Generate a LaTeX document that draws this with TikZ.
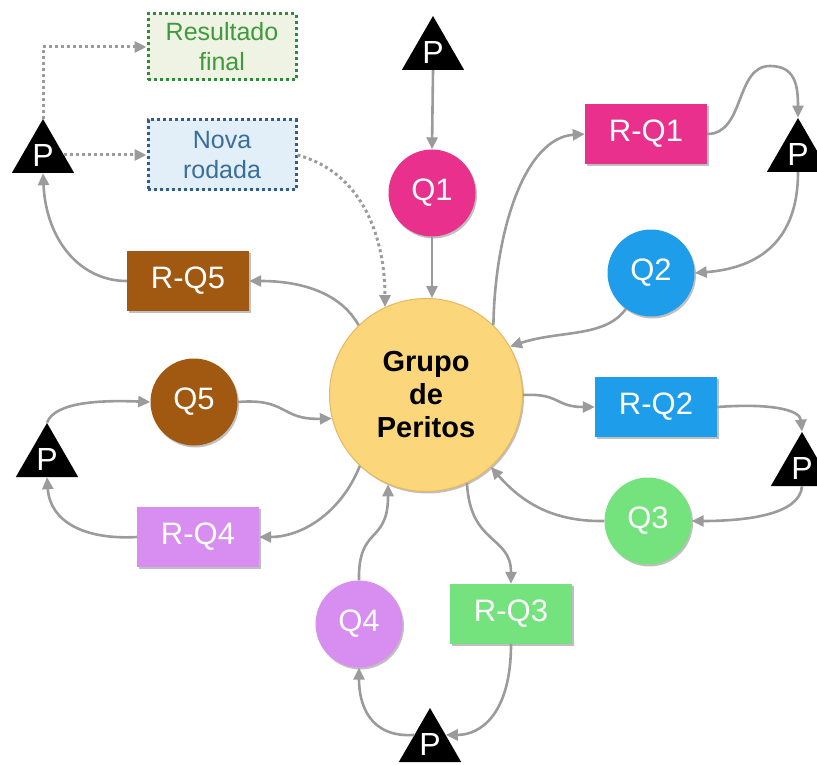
\documentclass[tikz,border=0pt]{standalone}
\usepackage{fontspec}
\setmainfont{Liberation Sans}
\usetikzlibrary{arrows.meta,shapes.geometric,shadows}

\definecolor{pinkc}{HTML}{E8308C}
\definecolor{bluec}{HTML}{1E9DEA}
\definecolor{greenc}{HTML}{74E37E}
\definecolor{purplec}{HTML}{D88EF0}
\definecolor{brownc}{HTML}{A15811}
\definecolor{grupoc}{HTML}{FCD67A}
\definecolor{grupoedge}{HTML}{E6B75E}
\definecolor{linkgray}{HTML}{9B9B9B}
\definecolor{novafill}{HTML}{E3EFF8}
\definecolor{novaedge}{HTML}{2F5D8C}
\definecolor{novatext}{HTML}{3A6E9A}
\definecolor{resfill}{HTML}{EEF3E3}
\definecolor{resedge}{HTML}{2E8B37}
\definecolor{restext}{HTML}{3E9A3A}

\tikzset{
  softshadow/.style={drop shadow={shadow xshift=1.5pt, shadow yshift=-2pt, opacity=0.25, fill=black}},
  qcirc/.style={circle, minimum size=87pt, inner sep=0pt, text=white,
    font=\fontsize{31}{32}\selectfont, softshadow},
  rbox/.style={rectangle, minimum width=122pt, minimum height=60pt, inner sep=0pt,
    text=white, font=\fontsize{31}{32}\selectfont, softshadow},
  ptri/.style={regular polygon, regular polygon sides=3, minimum size=72pt,
    inner sep=0pt, fill=black, text=white, font=\fontsize{32}{32}\selectfont},
  notebox/.style={rectangle, minimum width=148pt, inner sep=0pt, line width=3pt,
    dash pattern=on 3pt off 3pt, align=center,
    font=\fontsize{25}{30}\selectfont},
  link/.style={draw=linkgray, line width=2.6pt,
    -{Triangle[length=12pt,width=11pt]}},
  dotlink/.style={draw=linkgray, line width=3pt, dash pattern=on 3pt off 3pt,
    -{Triangle[length=12pt,width=11pt]}}
}

\begin{document}
\begin{tikzpicture}[x=1pt,y=-1pt]
\useasboundingbox (0,0) rectangle (817,765);

% central group
\node[circle, minimum size=193pt, inner sep=0pt, fill=grupoc, draw=grupoedge,
  line width=1pt, softshadow, align=center,
  font=\fontsize{29}{33}\selectfont\bfseries] (grupo) at (426,395)
  {Grupo\\de\\Peritos};

% questions
\node[qcirc, fill=pinkc]   (q1) at (432,193) {Q1};
\node[qcirc, fill=bluec]   (q2) at (651,273) {Q2};
\node[qcirc, fill=greenc]  (q3) at (648,521) {Q3};
\node[qcirc, fill=purplec] (q4) at (359,624) {Q4};
\node[qcirc, fill=brownc]  (q5) at (194,402) {Q5};

% answers
\node[rbox, fill=pinkc]   (rq1) at (646,134) {R-Q1};
\node[rbox, fill=bluec]   (rq2) at (656,407) {R-Q2};
\node[rbox, fill=greenc]  (rq3) at (511,614) {R-Q3};
\node[rbox, fill=purplec] (rq4) at (198,537) {R-Q4};
\node[rbox, fill=brownc]  (rq5) at (188,281) {R-Q5};

% P triangles
\node[ptri] (pt)  at (433,52)  {P};
\node[ptri] (pr1) at (798,154) {P};
\node[ptri] (pr2) at (802,468) {P};
\node[ptri] (pb)  at (430,744) {P};
\node[ptri] (pl2) at (47,459)  {P};
\node[ptri] (pl1) at (43,155)  {P};

% outcome boxes
\node[notebox, minimum height=66pt, fill=resfill, draw=resedge, text=restext]
  (res) at (222,47) {Resultado\\final};
\node[notebox, minimum height=70pt, fill=novafill, draw=novaedge, text=novatext]
  (nova) at (222,155) {Nova\\rodada};

% cycle Q1
\draw[link] (pt.side 2) -- (q1.north);
\draw[link] (q1.south) -- (grupo.north -| q1.south);
\draw[link] (grupo.46) .. controls (495,230) and (525,138) .. (rq1.west);
\draw[link] (rq1.east) .. controls (745,134) and (735,66) .. (770,66)
  .. controls (795,66) and (798,85) .. (pr1.corner 1);

% cycle Q2
\draw[link] (pr1.side 2) .. controls (798,240) and (760,268) .. (q2.east);
\draw[link] (q2.235) .. controls (605,338) and (560,330) .. (grupo.30);
\draw[link] (grupo.east) .. controls (560,393) and (555,407) .. (rq2.west);
\draw[link] (rq2.east) .. controls (772,403) and (800,410) .. (pr2.corner 1);

% cycle Q3
\draw[link] (pr2.side 2) .. controls (800,515) and (745,521) .. (q3.east);
\draw[link] (q3.west) .. controls (550,522) and (520,500) .. (grupo.-48);
\draw[link] (grupo.-65) .. controls (470,545) and (511,535) .. (rq3.north);
\draw[link] (rq3.south) .. controls (511,712) and (482,735) .. (pb.side 3);

% cycle Q4
\draw[link] (pb.side 1) .. controls (370,738) and (359,705) .. (q4.south);
\draw[link] (q4.north) .. controls (358,525) and (388,545) .. (grupo.-113);
\draw[link] (grupo.227) .. controls (340,515) and (300,537) .. (rq4.east);
\draw[link] (rq4.west) .. controls (85,540) and (50,522) .. (pl2.side 2);

% cycle Q5
\draw[link] (pl2.corner 1) .. controls (55,402) and (100,400) .. (q5.west);
\draw[link] (q5.east) .. controls (288,398) and (280,420) .. (grupo.194);
\draw[link] (grupo.134) .. controls (340,292) and (300,281) .. (rq5.east);
\draw[link] (rq5.west) .. controls (80,281) and (46,240) .. (pl1.side 2);

% decision
\draw[dotlink] (pl1.corner 1) |- (res.west);
\draw[dotlink] (pl1.east |- nova.west) -- (nova.west);
\draw[dotlink] (nova.east) .. controls (370,175) and (385,250) .. (grupo.115);
\end{tikzpicture}
\end{document}
